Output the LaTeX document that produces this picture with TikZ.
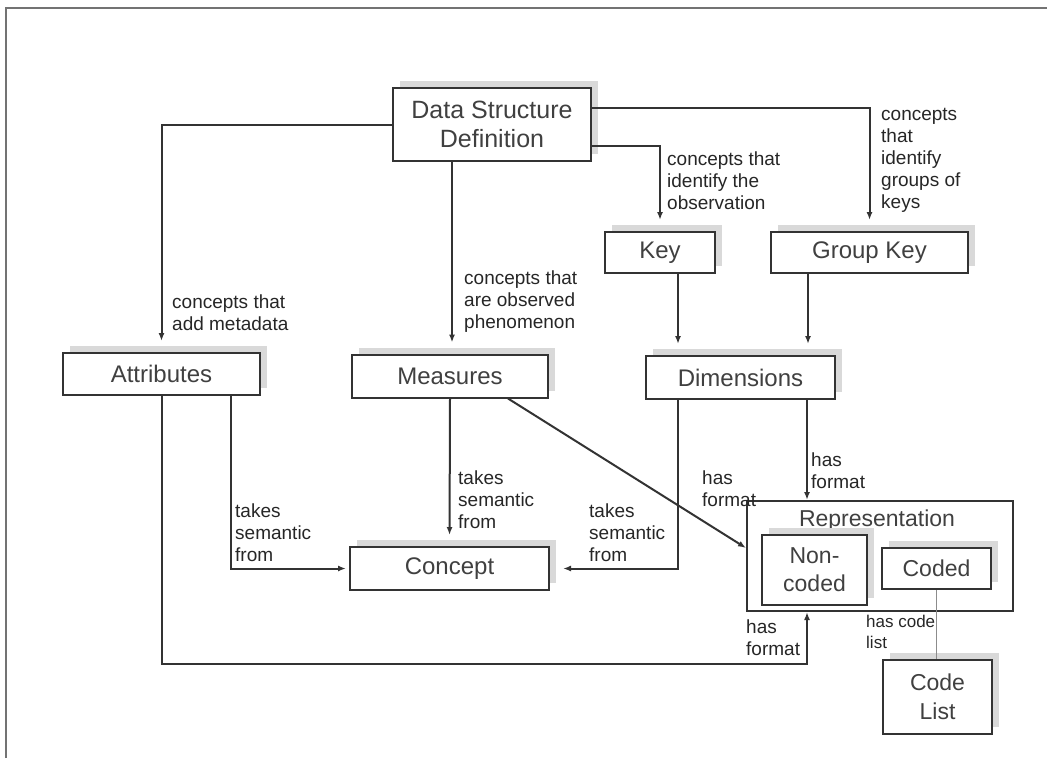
\documentclass[tikz,border=0pt]{standalone}
\usepackage{fontspec}
\setmainfont{Liberation Sans}
\usetikzlibrary{arrows.meta,shadows}

\begin{document}
\begin{tikzpicture}[x=1pt,y=-1pt,>={Latex[length=8pt,width=6pt]},draw=black!80]
    \tikzstyle{box}=[draw=black!80, fill=white, line width=2pt, inner sep=0pt,
        text=black!75, align=center, font=\fontsize{24}{27}\selectfont,
        copy shadow={shadow xshift=7pt, shadow yshift=7pt, draw=none, fill=black!15}]
    \tikzstyle{annot}=[anchor=west, align=left, inner sep=0pt, text=black!85,
        font=\fontsize{19}{22}\selectfont]
    \tikzstyle{link}=[->, line width=2pt]
    \tikzstyle{into box}=[link, shorten >=11pt]

    \useasboundingbox (0,0) rectangle (1047,758);

    % Page frame
    \draw[black!55, line width=1.5pt] (6,758) -- (6,8) -- (1047,8);

    % Draw the boxes
    \node[box, minimum width=198pt, minimum height=73pt, font=\fontsize{25}{29}\selectfont] (dsd) at (492,124.5) {Data Structure\\Definition};
    \node[box, minimum width=110pt, minimum height=41pt] (key) at (660,252.5) {Key};
    \node[box, minimum width=197pt, minimum height=41pt] (gkey) at (869.5,252.5) {Group Key};
    \node[box, minimum width=197pt, minimum height=42pt] (attr) at (161.5,374) {Attributes};
    \node[box, minimum width=196pt, minimum height=43pt] (meas) at (450,376) {Measures};
    \node[box, minimum width=189pt, minimum height=43pt] (dim) at (740.5,377.5) {Dimensions};
    \node[box, minimum width=199pt, minimum height=43pt] (concept) at (449.5,568.5) {Concept};

    % Representation with its two kinds
    \node[draw=black!80, line width=2pt, minimum width=266pt, minimum height=110pt, inner sep=0pt] (repr) at (880,556) {};
    \node[text=black!75, font=\fontsize{23}{26}\selectfont] (reprlabel) at (877,521) {Representation};
    \node[box, minimum width=105pt, minimum height=70pt, font=\fontsize{23}{28}\selectfont] (noncoded) at (814.5,570) {Non-\\coded};
    \node[box, minimum width=109pt, minimum height=41pt, font=\fontsize{23}{27}\selectfont] (coded) at (936.5,568.5) {Coded};
    \node[box, minimum width=109pt, minimum height=74pt, font=\fontsize{23}{29}\selectfont] (codelist) at (937.5,697) {Code\\List};

    % Connect the definition with its parts
    \draw[into box] (dsd.west) -| (attr.north);
    \draw[into box] ([xshift=-40pt]dsd.south) -- ([xshift=-40pt]dsd.south |- meas.north);
    \draw[into box] ([yshift=-21.5pt]dsd.east) -| (key.north);
    \draw[into box] ([yshift=16.5pt]dsd.east) -| (gkey.north);
    \draw[into box] ([xshift=18pt]key.south) -- ([xshift=18pt]key.south |- dim.north);
    \draw[into box] ([xshift=-61.5pt]gkey.south) -- ([xshift=-61.5pt]gkey.south |- dim.north);

    % Connect the parts with the concept
    \draw[link, shorten >=3pt] ([xshift=69.5pt]attr.south) |- (concept.west);
    \draw[into box] (meas.south) -- (concept.north);
    \draw[link, shorten >=13pt] ([xshift=-62.5pt]dim.south) |- (concept.east);

    % Connect the parts with the representation
    \draw[link] ([xshift=66.5pt]dim.south) -- ([xshift=66.5pt]dim.south |- repr.north);
    \draw[link] ([xshift=58pt]meas.south) -- ([yshift=8pt]repr.west);
    \coordinate (fmt) at (807,664);
    \draw[link] (attr.south) |- (fmt) -- (fmt |- repr.south);
    \draw[black!45, line width=1pt] (coded.south) -- (coded.south |- codelist.north);

    % Annotate the connectors
    \node[annot] (l-attr) at (172,313) {concepts that\\add metadata};
    \node[annot] (l-meas) at (464,302) {concepts that\\are observed\\phenomenon};
    \node[annot] (l-key) at (667,181) {concepts that\\identify the\\observation};
    \node[annot] (l-gkey) at (881,160) {concepts\\that\\identify\\groups of\\keys};
    \node[annot] (l-sem1) at (235,533) {takes\\semantic\\from};
    \node[annot] (l-sem2) at (458,500) {takes\\semantic\\from};
    \node[annot] (l-sem3) at (589,533) {takes\\semantic\\from};
    \node[annot] (l-fmt1) at (811,471) {has\\format};
    \node[annot] (l-fmt2) at (702,489) {has\\format};
    \node[annot] (l-fmt3) at (746,638) {has\\format};
    \node[annot, font=\fontsize{17}{21}\selectfont] (l-code) at (866,632) {has code\\list};
\end{tikzpicture}
\end{document}
